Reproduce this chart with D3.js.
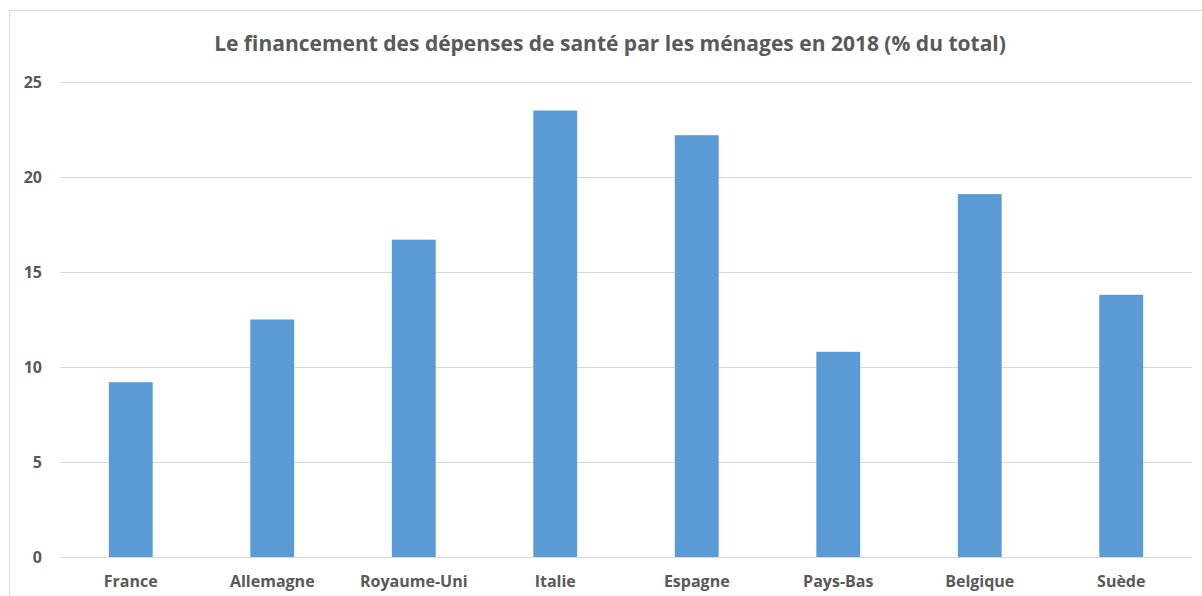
<!DOCTYPE html>
<html>
<head>
<meta charset="utf-8">
<script src="https://cdn.jsdelivr.net/npm/d3@7"></script>
<style>
  body { margin: 0; background: #fff; }
  text { font-family: "Open Sans", "DejaVu Sans", sans-serif; fill: #595959; font-weight: bold; }
</style>
</head>
<body>
<div class="canvas"></div>
<script>
// data
const countries = ['France', 'Allemagne', 'Royaume-Uni', 'Italie', 'Espagne', 'Pays-Bas', 'Belgique', 'Suède']
const shares = [9.2, 12.5, 16.7, 23.5, 22.2, 10.8, 19.1, 13.8]
const yTicks = [0, 5, 10, 15, 20, 25]
const title = 'Le financement des dépenses de santé par les ménages en 2018 (% du total)'

const svgWidth = 1202
const svgHeight = 596

// plot area
const margin = {top: 82, right: 10, bottom: 39, left: 60}
const graphWidth = 1192 - margin.left
const graphHeight = 557 - margin.top

const svg = d3.select('.canvas')
    .append('svg')
    .attr('width', svgWidth)
    .attr('height', svgHeight)

// chart frame
svg.append('rect')
    .attr('x', 9.5)
    .attr('y', 10.5)
    .attr('width', svgWidth)
    .attr('height', svgHeight)
    .attr('fill', 'none')
    .attr('stroke', '#d9d9d9')

svg.append('text')
    .attr('x', 610)
    .attr('y', 51)
    .attr('text-anchor', 'middle')
    .attr('font-size', '21px')
    .text(title)

const graph = svg.append('g')
    .attr('transform', `translate(${margin.left}, ${margin.top})`)

const x = d3.scaleBand()
    .domain(countries)
    .range([0, graphWidth])
    .paddingInner(0.69)
    .paddingOuter(0.345)

const y = d3.scaleLinear()
    .domain([0, 25])
    .range([graphHeight, 0])

// gridlines
graph.append('g')
    .selectAll('line')
    .data(yTicks)
    .enter()
    .append('line')
    .attr('x1', 0)
    .attr('x2', graphWidth)
    .attr('y1', d => Math.round(y(d)) + 0.5)
    .attr('y2', d => Math.round(y(d)) + 0.5)
    .attr('stroke', '#d9d9d9')
    .attr('stroke-width', 1.2)

// y axis labels
const yAxis = d3.axisLeft(y).tickValues(yTicks).tickSize(0).tickPadding(18)
const yAxisGroup = graph.append('g').call(yAxis)
yAxisGroup.select('.domain').remove()
yAxisGroup.selectAll('text')
    .attr('font-size', '16px')
    .attr('font-family', null)
    .attr('fill', null)

// bars
graph.selectAll('rect')
    .data(shares)
    .enter()
    .append('rect')
    .attr('x', (d, i) => x(countries[i]))
    .attr('y', d => y(d))
    .attr('width', x.bandwidth())
    .attr('height', d => graphHeight - y(d))
    .attr('fill', '#5b9bd5')

// x axis labels
const xAxis = d3.axisBottom(x).tickSize(0).tickPadding(19)
const xAxisGroup = graph.append('g')
    .attr('transform', `translate(0, ${graphHeight})`)
    .call(xAxis)
xAxisGroup.select('.domain').remove()
xAxisGroup.selectAll('text')
    .attr('font-size', '16px')
    .attr('font-family', null)
    .attr('fill', null)
</script>
</body>
</html>
